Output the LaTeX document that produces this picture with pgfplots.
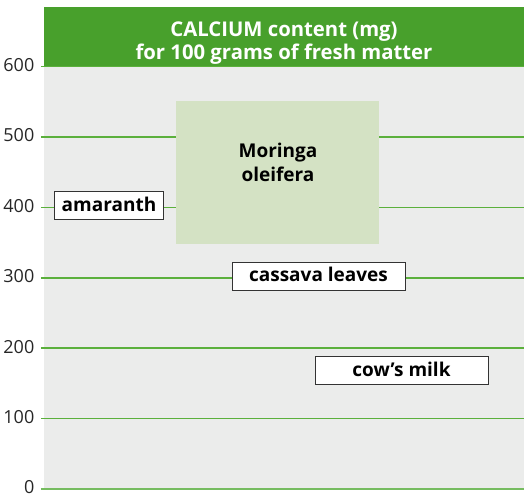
\documentclass[border=0pt]{standalone}
\usepackage{fontspec}
\setmainfont{Open Sans}
\usepackage{pgfplots}
\pgfplotsset{compat=1.18}
\definecolor{hdrgreen}{HTML}{48A02C}
\definecolor{bggray}{HTML}{EBECEB}
\definecolor{gridgreen}{HTML}{5BB03C}
\definecolor{zerogreen}{HTML}{76BC60}
\definecolor{moringa}{HTML}{D4E2C4}
\begin{document}
\begin{tikzpicture}[x=1pt,y=1pt]
\path[use as bounding box] (0,0) rectangle (525,496);
\begin{axis}[
  at={(44pt,7pt)}, anchor=south west,
  scale only axis, width=480pt, height=422.4pt,
  xmin=44, xmax=524, ymin=0, ymax=600,
  hide x axis,
  axis y line*=left,
  y axis line style={draw=none},
  axis background/.style={fill=bggray},
  ytick={100,200,...,600},
  extra y ticks={0},
  extra y tick style={grid style={draw=zerogreen, line width=2.2pt}, tick style={draw=zerogreen, line width=2.2pt}},
  ymajorgrids,
  grid style={draw=gridgreen, line width=1.5pt},
  tick style={draw=gridgreen, line width=1.5pt},
  major tick length=3pt,
  tick align=outside,
  /pgf/number format/assume math mode=true,
  yticklabel style={font=\fontsize{18}{19}\selectfont, text=black!85, inner xsep=6.5pt, inner ysep=0pt, yshift=1.5pt},
  every axis title shift=0pt,
  title={\rule{0pt}{27pt}CALCIUM content (mg)\\for 100 grams of fresh matter},
  title style={at={(0.5,1)}, anchor=south, yshift=0pt, fill=hdrgreen, text=white,
    minimum width=480pt, minimum height=59pt, inner sep=0pt, align=center,
    font=\bfseries\fontsize{20.3}{23}\selectfont},
  clip=false,
]
% Moringa oleifera range box
\addplot[fill=moringa, draw=none] coordinates {(176,348) (379,348) (379,551) (176,551)} -- cycle;
\node[align=center, font=\bfseries\fontsize{19}{24}\selectfont, text=black] at (axis cs:278,464) {Moringa\\oleifera};
% labels
\addplot[only marks, mark=none, point meta=explicit symbolic, nodes near coords,
  every node near coord/.append style={anchor=center, draw=black!80, line width=1pt, fill=white,
    minimum width=108pt, minimum height=28pt, inner sep=0pt, text height=14pt, text depth=3pt,
    font=\bfseries\fontsize{19}{23}\selectfont, text=black}]
  coordinates {(109,402) [amaranth]};
\addplot[only marks, mark=none, point meta=explicit symbolic, nodes near coords,
  every node near coord/.append style={anchor=center, draw=black!80, line width=1pt, fill=white,
    minimum width=173pt, minimum height=28pt, inner sep=0pt, text height=14pt, text depth=3pt,
    font=\bfseries\fontsize{19}{23}\selectfont, text=black}]
  coordinates {(318.5,302.5) [cassava leaves] (401.5,168) [cow’s milk]};
\end{axis}
\end{tikzpicture}
\end{document}
